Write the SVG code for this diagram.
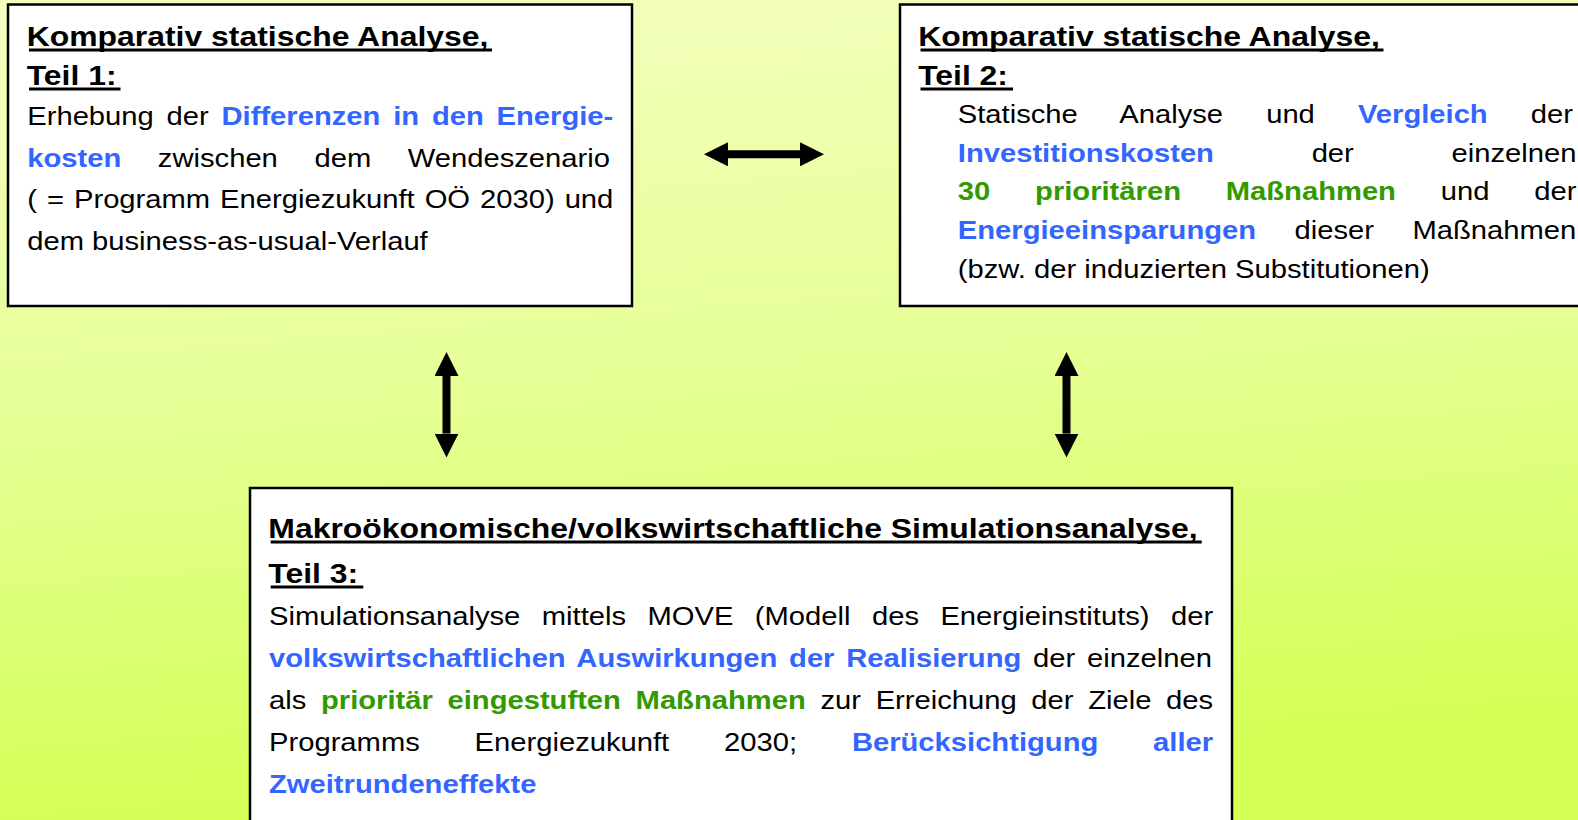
<svg xmlns="http://www.w3.org/2000/svg" width="1578" height="820" viewBox="0 0 1578 820">
<defs>
<linearGradient id="bg" x1="0" y1="0" x2="0.15" y2="1">
<stop offset="0" stop-color="#F4FFC0"/>
<stop offset="0.5" stop-color="#E6FF96"/>
<stop offset="1" stop-color="#D4FF55"/>
</linearGradient>
<marker id="ah" viewBox="0 0 24 24" refX="0" refY="12" markerWidth="24" markerHeight="24" markerUnits="userSpaceOnUse" orient="auto-start-reverse">
<path d="M0,0 L24,12 L0,24 Z" fill="#000"/>
</marker>
<style>
.box{fill:#fff;stroke:#000;stroke-width:2.5}
text{font-family:"Liberation Sans",Arial,sans-serif;fill:#000}
.t{font-size:28px;font-weight:bold}
.u{fill:#000}
.p{font-size:25.6px}
.b{font-weight:bold;fill:#3366FF}
.g{font-weight:bold;fill:#339900}
.con{stroke:#000;stroke-width:8;fill:none;marker-start:url(#ah);marker-end:url(#ah)}
</style>
</defs>
<rect x="0" y="0" width="1578" height="820" fill="url(#bg)"/>

<g id="node-teil1">
<rect class="box" x="8" y="4.5" width="624" height="301.5"/>
<rect class="u" x="29" y="48.5" width="463" height="3"/>
<rect class="u" x="29" y="87.5" width="91.5" height="3"/>
<g transform="scale(1.14 1)">
<text class="t" x="23.4" y="46">Komparativ statische Analyse,</text>
<text class="t" x="23.4" y="85">Teil 1:</text>
<text class="p" x="23.9" y="125" word-spacing="4.12">Erhebung der <tspan class="b">Differenzen in den Energie-</tspan></text>
<text class="p" x="23.9" y="166.7" word-spacing="25"><tspan class="b">kosten</tspan> zwischen dem Wendeszenario</text>
<text class="p" x="23.9" y="208.3" word-spacing="1.65">( = Programm Energiezukunft OÖ 2030) und</text>
<text class="p" x="23.9" y="250">dem business-as-usual-Verlauf</text>
</g>
</g>

<g id="node-teil2">
<rect class="box" x="900" y="4.5" width="700" height="301.5"/>
<rect class="u" x="920.5" y="48.5" width="463" height="3"/>
<rect class="u" x="920.5" y="87.5" width="92.5" height="3"/>
<g transform="scale(1.14 1)">
<text class="t" x="805.4" y="46">Komparativ statische Analyse,</text>
<text class="t" x="805.4" y="85">Teil 2:</text>
<text class="p" x="840.2" y="123" word-spacing="30.7">Statische Analyse und <tspan class="b">Vergleich</tspan> der</text>
<text class="p" x="840.2" y="161.7" word-spacing="78.6"><tspan class="b">Investitionskosten</tspan> der einzelnen</text>
<text class="p" x="840.2" y="200.3" word-spacing="32.2"><tspan class="g">30 prioritären Maßnahmen</tspan> und der</text>
<text class="p" x="840.2" y="239" word-spacing="26.6"><tspan class="b">Energieeinsparungen</tspan> dieser Maßnahmen</text>
<text class="p" x="840.2" y="277.7">(bzw. der induzierten Substitutionen)</text>
</g>
</g>

<g id="node-teil3">
<rect class="box" x="250" y="488" width="982" height="345"/>
<rect class="u" x="270.7" y="540.5" width="931" height="3"/>
<rect class="u" x="270.7" y="585.5" width="92.6" height="3"/>
<g transform="scale(1.14 1)">
<text class="t" x="235.4" y="538">Makroökonomische/volkswirtschaftliche Simulationsanalyse,</text>
<text class="t" x="235.4" y="583">Teil 3:</text>
<text class="p" x="236" y="625" word-spacing="11.7">Simulationsanalyse mittels MOVE (Modell des Energieinstituts) der</text>
<text class="p" x="236" y="667" word-spacing="3.2"><tspan class="b">volkswirtschaftlichen Auswirkungen der Realisierung</tspan> der einzelnen</text>
<text class="p" x="236" y="709" word-spacing="5.76">als <tspan class="g">prioritär eingestuften Maßnahmen</tspan> zur Erreichung der Ziele des</text>
<text class="p" x="236" y="751" word-spacing="41">Programms Energiezukunft 2030; <tspan class="b">Berücksichtigung aller</tspan></text>
<text class="p" x="236" y="793"><tspan class="b">Zweitrundeneffekte</tspan></text>
</g>
</g>

<g id="connectors">
<line class="con" x1="728" y1="154.3" x2="800" y2="154.3"/>
<line class="con" x1="446.5" y1="376" x2="446.5" y2="433.6"/>
<line class="con" x1="1066.5" y1="376" x2="1066.5" y2="433.6"/>
</g>
</svg>
